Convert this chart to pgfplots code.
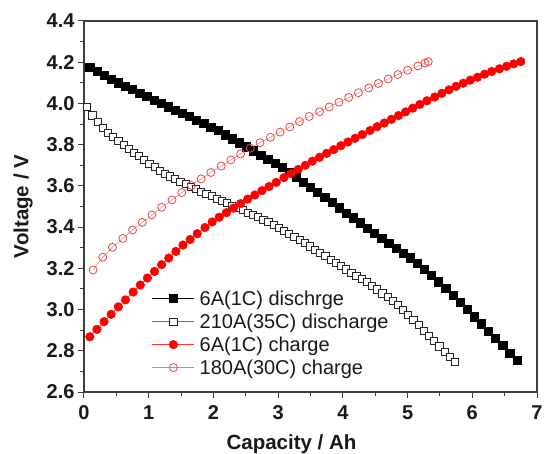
\documentclass[border=0pt]{standalone}
\usepackage{fontspec}
\setmainfont{Liberation Sans}
\usepackage{pgfplots}
\pgfplotsset{compat=1.18}
\definecolor{lred}{RGB}{232,70,70}
\definecolor{axgray}{RGB}{60,60,60}
\begin{document}
\begin{tikzpicture}
\useasboundingbox (-84bp,-62bp) rectangle (460bp,392bp);
\begin{axis}[
  at={(0,0)}, anchor=south west,
  scale only axis, width=453bp, height=371bp,
  xmin=0, xmax=7, ymin=2.6, ymax=4.4,
  xtick={0,1,...,7}, ytick={2.6,2.8,...,4.41},
  minor x tick num=1, minor y tick num=1,
  tick pos=left, tick align=outside,
  major tick length=6bp, minor tick length=3.5bp,
  every tick/.style={line width=1bp, axgray},
  axis line style={line width=1.3bp, axgray},
  /pgf/number format/assume math mode=true,
  yticklabel style={/pgf/number format/.cd, fixed, fixed zerofill, precision=1},
  xticklabel style={yshift=-4bp},
  ticklabel style={font=\fontsize{20bp}{22bp}\selectfont\bfseries, text=black!90},
  xlabel={Capacity / Ah}, ylabel={Voltage / V},
  label style={font=\fontsize{20.5bp}{23bp}\selectfont\bfseries, text=black!90},
  xlabel style={at={(axis description cs:0.5,0)}, anchor=base, yshift=-57bp, xshift=-19bp},
  ylabel style={at={(axis description cs:0,0.5)}, anchor=center, yshift=61bp},
  legend cell align=left,
  legend style={draw=none, fill=none, at={(axis cs:1.05,3.10)}, anchor=north west,
    font=\fontsize{20bp}{22bp}\selectfont, text=black!90,
    row sep=4bp, inner sep=0bp,
    nodes={inner xsep=5bp, inner ysep=1.5bp},
    legend image code/.code={\draw[mark repeat=2,mark phase=2,#1] plot coordinates {(0bp,0bp) (21bp,0bp) (42bp,0bp)};}},
]
\addplot[black, line width=0.5bp, mark=square*, mark size=4.1bp, mark options={solid, fill=black, draw=black}] coordinates {
(0.09,4.176) (0.20,4.157) (0.31,4.138) (0.42,4.119) (0.53,4.100) (0.64,4.084) (0.75,4.067) (0.86,4.050) (0.97,4.033) (1.08,4.017)
(1.19,4.001) (1.30,3.984) (1.41,3.968) (1.52,3.952) (1.63,3.936) (1.74,3.919) (1.85,3.903) (1.96,3.886) (2.07,3.868) (2.18,3.848)
(2.29,3.829) (2.40,3.809) (2.51,3.790) (2.62,3.770) (2.73,3.750) (2.84,3.730) (2.95,3.710) (3.06,3.689) (3.17,3.665) (3.28,3.641)
(3.39,3.617) (3.50,3.594) (3.61,3.569) (3.72,3.544) (3.83,3.519) (3.94,3.494) (4.05,3.469) (4.16,3.445) (4.27,3.421) (4.38,3.396)
(4.49,3.372) (4.60,3.347) (4.71,3.323) (4.82,3.299) (4.93,3.275) (5.04,3.251) (5.15,3.225) (5.26,3.196) (5.37,3.168) (5.48,3.135)
(5.59,3.102) (5.70,3.068) (5.81,3.034) (5.92,3.000) (6.03,2.965) (6.14,2.931) (6.25,2.896) (6.36,2.861) (6.47,2.825) (6.58,2.789)
(6.69,2.753)
};
\addlegendentry{6A(1C) dischrge}
\addplot[black!55, line width=0.5bp, mark=square*, mark size=3.6bp, mark options={solid, fill=white, draw=black!85, line width=0.7bp}] coordinates {
(0.05,3.982) (0.13,3.942) (0.21,3.909) (0.29,3.881) (0.37,3.859) (0.45,3.838) (0.53,3.819) (0.61,3.800) (0.69,3.781) (0.77,3.762)
(0.85,3.744) (0.93,3.726) (1.01,3.708) (1.09,3.691) (1.17,3.674) (1.25,3.660) (1.33,3.646) (1.41,3.633) (1.49,3.620) (1.57,3.608)
(1.65,3.596) (1.73,3.584) (1.81,3.573) (1.89,3.561) (1.97,3.550) (2.05,3.539) (2.13,3.528) (2.21,3.517) (2.29,3.505) (2.37,3.494)
(2.45,3.483) (2.53,3.471) (2.61,3.460) (2.69,3.448) (2.77,3.436) (2.85,3.424) (2.93,3.411) (3.01,3.398) (3.09,3.383) (3.17,3.368)
(3.25,3.352) (3.33,3.337) (3.41,3.322) (3.49,3.307) (3.57,3.291) (3.65,3.275) (3.73,3.259) (3.81,3.243) (3.89,3.227) (3.97,3.211)
(4.05,3.195) (4.13,3.180) (4.21,3.164) (4.29,3.148) (4.37,3.133) (4.45,3.116) (4.53,3.098) (4.61,3.079) (4.69,3.061) (4.77,3.043)
(4.85,3.024) (4.93,3.000) (5.01,2.975) (5.09,2.949) (5.17,2.924) (5.25,2.898) (5.33,2.872) (5.41,2.847) (5.49,2.821) (5.57,2.796)
(5.65,2.770) (5.73,2.745)
};
\addlegendentry{210A(35C) discharge}
\addplot[red!80, line width=0.5bp, mark=*, mark size=4.3bp, mark options={solid, fill=red, draw=red}] coordinates {
(0.09,2.868) (0.20,2.904) (0.31,2.941) (0.42,2.977) (0.53,3.013) (0.64,3.047) (0.76,3.085) (0.87,3.119) (0.98,3.153) (1.09,3.185)
(1.20,3.218) (1.31,3.250) (1.42,3.282) (1.53,3.313) (1.64,3.340) (1.75,3.368) (1.87,3.398) (1.98,3.425) (2.09,3.448) (2.20,3.470)
(2.31,3.492) (2.42,3.514) (2.53,3.536) (2.64,3.556) (2.75,3.577) (2.86,3.597) (2.97,3.617) (3.09,3.640) (3.20,3.660) (3.31,3.680)
(3.42,3.700) (3.53,3.720) (3.64,3.739) (3.75,3.758) (3.86,3.776) (3.97,3.795) (4.08,3.813) (4.19,3.831) (4.30,3.849) (4.42,3.869)
(4.53,3.887) (4.64,3.905) (4.75,3.923) (4.86,3.941) (4.97,3.959) (5.08,3.977) (5.19,3.995) (5.30,4.013) (5.42,4.031) (5.53,4.049)
(5.64,4.066) (5.75,4.083) (5.86,4.098) (5.97,4.113) (6.08,4.127) (6.19,4.142) (6.30,4.155) (6.42,4.168) (6.53,4.180) (6.64,4.192)
(6.75,4.203)
};
\addlegendentry{6A(1C) charge}
\addplot[lred!70, line width=0.5bp, mark=o, mark size=4bp, mark options={solid, draw=lred, line width=0.8bp}] coordinates {
(0.14,3.192) (0.29,3.254) (0.44,3.302) (0.60,3.345) (0.75,3.386) (0.90,3.423) (1.05,3.459) (1.20,3.496) (1.36,3.532) (1.51,3.567)
(1.66,3.602) (1.81,3.634) (1.96,3.665) (2.12,3.696) (2.27,3.726) (2.42,3.755) (2.57,3.783) (2.72,3.810) (2.88,3.836) (3.03,3.861)
(3.18,3.886) (3.33,3.912) (3.48,3.937) (3.64,3.960) (3.79,3.983) (3.94,4.006) (4.09,4.029) (4.24,4.052) (4.40,4.075) (4.55,4.097)
(4.70,4.119) (4.85,4.140) (5.00,4.161) (5.16,4.182) (5.27,4.196) (5.32,4.203)
};
\addlegendentry{180A(30C) charge}
\end{axis}
\end{tikzpicture}
\end{document}
